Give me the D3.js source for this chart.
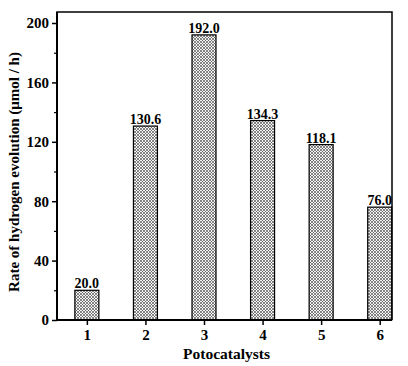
<!DOCTYPE html>
<html><head><meta charset="utf-8">
<script src="https://cdn.jsdelivr.net/npm/d3@7"></script>
<style>body{margin:0;background:#fff}svg{display:block}</style>
</head><body>
<script>
const categories = [1, 2, 3, 4, 5, 6];
const rates = [20.0, 130.6, 192.0, 134.3, 118.1, 76.0];
const yTicks = [0, 40, 80, 120, 160, 200];
const yMinorTicks = [20, 60, 100, 140, 180];

const W = 408, H = 366;
const L = 57, R = 392, T = 12, B = 320;
const svg = d3.select("body").append("svg").attr("width", W).attr("height", H);

const defs = svg.append("defs");
const pat = defs.append("pattern").attr("id", "hatch").attr("patternUnits", "userSpaceOnUse")
  .attr("width", 3).attr("height", 3);
pat.append("rect").attr("width", 3).attr("height", 3).attr("fill", "#f4f4f4");
pat.append("path").attr("d", "M0,0L3,3M3,0L0,3").attr("stroke", "#555").attr("stroke-width", 0.7);

const x = d3.scaleLinear().domain([0.49, 6.21]).range([L, R]);
const y = d3.scaleLinear().domain([0, 200]).range([B, 23]);

const font = "'Liberation Serif', 'Times New Roman', serif";

// bars
svg.selectAll("rect.bar").data(categories).enter().append("rect")
  .attr("class", "bar")
  .attr("x", d => x(d) - 12).attr("width", 24)
  .attr("y", (d, i) => y(rates[i])).attr("height", (d, i) => y(0) - y(rates[i]))
  .attr("fill", "url(#hatch)").attr("stroke", "#000").attr("stroke-width", 1.2);

// value labels
svg.selectAll("text.val").data(categories).enter().append("text")
  .attr("x", d => x(d)).attr("y", (d, i) => y(rates[i]) - 2)
  .attr("text-anchor", "middle").attr("font-family", font).attr("font-weight", "bold")
  .attr("font-size", 14).text((d, i) => rates[i].toFixed(1));

// frame
svg.append("path").attr("d", `M${L},${B}V${T}H${R}V${B}`).attr("fill", "none")
  .attr("stroke", "#000").attr("stroke-width", 1.5);

// y axis
const yAxis = svg.append("g").attr("transform", `translate(${L},0)`)
  .call(d3.axisLeft(y).tickValues(yTicks).tickSize(5).tickPadding(3).tickFormat(d3.format("d")));
yAxis.select(".domain").attr("d", `M0,${B}V${T}`).attr("stroke-width", 2);
yAxis.selectAll(".tick line").attr("stroke-width", 1.5);
yAxis.selectAll("text").attr("font-family", font).attr("font-weight", "bold").attr("font-size", 15).attr("fill", "#000");
svg.append("g").attr("transform", `translate(${L},0)`)
  .call(d3.axisLeft(y).tickValues(yMinorTicks).tickSize(3).tickFormat(""))
  .call(g => g.select(".domain").remove())
  .selectAll(".tick line").attr("stroke-width", 1.2);

// x axis
const xAxis = svg.append("g").attr("transform", `translate(0,${B})`)
  .call(d3.axisBottom(x).tickValues(categories).tickSize(5).tickPadding(4).tickFormat(d3.format("d")));
xAxis.select(".domain").attr("d", `M${L},0H${R}`).attr("stroke-width", 2);
xAxis.selectAll(".tick line").attr("stroke-width", 1.5);
xAxis.selectAll("text").attr("font-family", font).attr("font-weight", "bold").attr("font-size", 15).attr("fill", "#000");

// axis titles
svg.append("text").attr("x", (L + R) / 2 + 2).attr("y", 359).attr("text-anchor", "middle")
  .attr("font-family", font).attr("font-weight", "bold").attr("font-size", 15.5).text("Potocatalysts");
svg.append("text").attr("transform", `translate(19,${(T + B) / 2 + 6}) rotate(-90)`)
  .attr("text-anchor", "middle").attr("font-family", font).attr("font-weight", "bold")
  .attr("font-size", 15).text("Rate of hydrogen evolution (μmol / h)");
</script>
</body></html>
